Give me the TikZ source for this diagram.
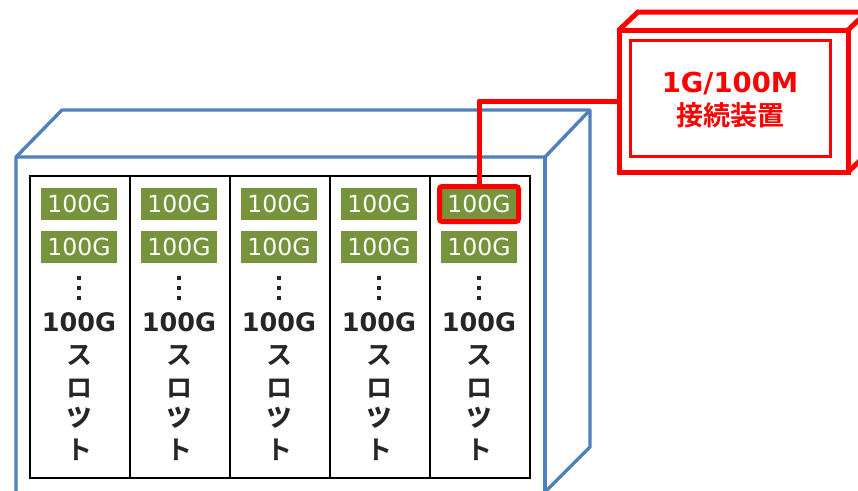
\documentclass[tikz,border=0pt]{standalone}
\usepackage{fontspec}
\setmainfont{DejaVu Sans}
\newfontfamily\jp[BoldFont={Noto Sans CJK JP Bold}]{Noto Sans CJK JP}
\usetikzlibrary{fit}
\definecolor{chassis}{HTML}{4F81BD}
\definecolor{portgreen}{HTML}{77933C}
\definecolor{ink}{HTML}{262626}
\tikzset{
  x=1pt, y=-1pt,
  chassisline/.style={draw=chassis, line width=3.4, line join=round},
  devline/.style={draw=red, line width=5, line join=miter},
  port/.style={fill=portgreen, text=white, minimum width=76, minimum height=32,
    inner sep=0, font=\fontsize{23.5}{23.5}\selectfont},
  slotlabel/.style={text=ink, inner sep=0, font=\fontsize{25.5}{25.5}\selectfont\bfseries},
  kana/.style={text=ink, inner sep=0, font=\jp\fontsize{26}{26}\selectfont\bfseries},
  smallkana/.style={kana, font=\jp\fontsize{31}{31}\selectfont\bfseries},
  dotmark/.style={fill=ink, draw=none, minimum size=4, inner sep=0, rectangle},
}
\begin{document}
\begin{tikzpicture}
\clip (0,0) rectangle (858,490);
\fill[white] (0,0) rectangle (858,490);

% chassis: front face, top face and right side
\draw[chassisline] (16,495) -- (16,157) -- (62,110) -- (590,110) -- (590,447) -- (545,492);
\draw[chassisline] (16,157) -- (545,157) -- (590,110);
\draw[chassisline] (545,157) -- (545,495);

% slot frame
\draw[black, line width=2.2] (30,176) rectangle (530,478);
\foreach \x in {130,230,330,430} \draw[black, line width=2.2] (\x,176) -- (\x,478);

% slots
\foreach \i in {1,...,5}{
  \pgfmathsetmacro{\cx}{79+100*(\i-1)}
  \node[port] (p\i a) at (\cx,204) {100G};
  \node[port] (p\i b) at (\cx,247) {100G};
  \node[dotmark] (d\i a) at (\cx,278) {};
  \node[dotmark] (d\i b) at (\cx,288) {};
  \node[dotmark] (d\i c) at (\cx,298) {};
  \node[slotlabel] (s\i) at (\cx,322) {100G};
  \node[kana] (k\i a) at (\cx,355) {ス};
  \node[kana] (k\i b) at (\cx,388) {ロ};
  \node[smallkana] (k\i c) at (\cx,418) {ッ};
  \node[kana] (k\i d) at (\cx,450) {ト};
}

% highlighted port
\node[draw=red, line width=5, rounded corners=2.5, fit=(p5a), inner sep=1.3] (hl) {};

% connection device (box with depth)
\draw[devline] (619,30) -- (638,12) -- (870,12);
\draw[devline] (848,30) -- (867,12);
\draw[devline] (848,172) -- (867,154) -- (867,12);
\node[draw=red, line width=5, minimum width=229, minimum height=142, inner sep=0] (dev) at (733.5,101) {};
\node[draw=red, line width=3, minimum width=200, minimum height=116, inner sep=0] (devin) at (730,98) {};
\node[text=red, inner sep=0, font=\fontsize{27.5}{27.5}\selectfont\bfseries] (t1) at (730,84) {1G/100M};
\node[text=red, inner sep=0, font=\jp\fontsize{27}{27}\selectfont\bfseries] (t2) at (730,115) {接続装置};

% link from highlighted port to the device
\draw[red, line width=5, line join=round] (hl.north) |- (dev.west);
\end{tikzpicture}
\end{document}
